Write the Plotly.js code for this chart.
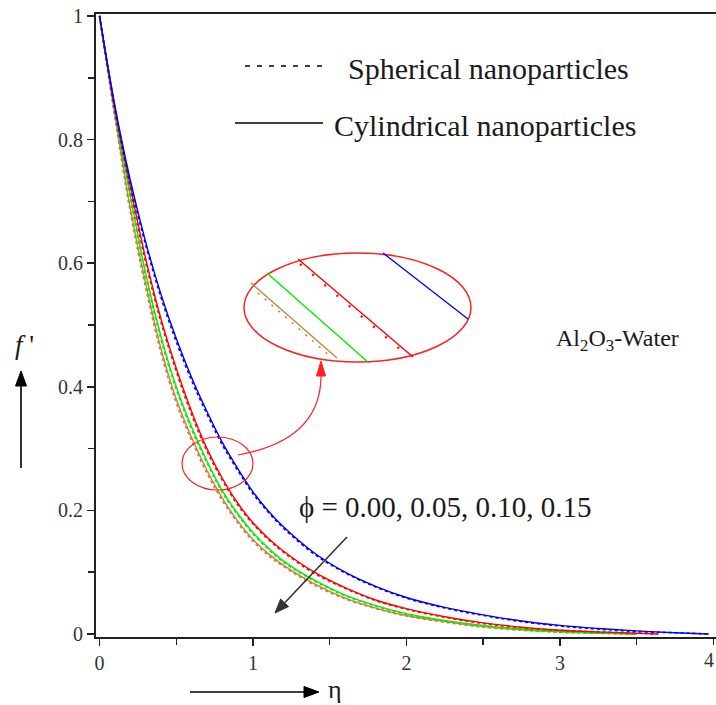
<!DOCTYPE html>
<html>
<head>
<meta charset="utf-8">
<script src="https://cdn.plot.ly/plotly-3.0.1.min.js"></script>
<style>html,body{margin:0;padding:0;background:#fff;}#chart{width:716px;height:705px;}</style>
</head>
<body>
<div id="chart"></div>
<script>
// ---- data ----
const seriesNames = ["ϕ = 0.00", "ϕ = 0.05", "ϕ = 0.10", "ϕ = 0.15"];
const etaBlue = [0,0.1,0.2,0.3,0.4,0.5,0.6,0.7,0.8,0.9,1.0,1.1,1.2,1.4,1.6,1.8,2.0,2.25,2.5,2.75,3.0,3.25,3.5,3.75,3.97];
const blueCyl = [1,0.855,0.735,0.635,0.55,0.478,0.415,0.36,0.31,0.268,0.23,0.199,0.173,0.131,0.1,0.077,0.059,0.043,0.031,0.021,0.014,0.009,0.005,0.002,0.0];
const blueSph = [1,0.852,0.73,0.63,0.545,0.473,0.41,0.356,0.306,0.265,0.227,0.197,0.171,0.129,0.099,0.076,0.058,0.042,0.03,0.02,0.013,0.008,0.004,0.002,0.0];
const etaRed = [0,0.1,0.2,0.3,0.4,0.5,0.6,0.7,0.8,0.9,1.0,1.1,1.2,1.4,1.6,1.8,2.0,2.25,2.5,2.75,3.0,3.3,3.64];
const redCyl = [1,0.85,0.725,0.608,0.51,0.43,0.36,0.3,0.252,0.212,0.18,0.155,0.134,0.1,0.075,0.055,0.041,0.028,0.018,0.011,0.006,0.003,0.0];
const redSph = [1,0.846,0.72,0.602,0.505,0.425,0.355,0.296,0.249,0.209,0.178,0.153,0.132,0.098,0.074,0.054,0.04,0.027,0.017,0.01,0.006,0.003,0.0];
const etaGreen = [0,0.1,0.2,0.3,0.4,0.5,0.6,0.7,0.8,0.9,1.0,1.1,1.2,1.4,1.6,1.8,2.0,2.25,2.5,2.75,3.0,3.5];
const greenCyl = [1,0.845,0.71,0.585,0.482,0.4,0.335,0.28,0.232,0.195,0.164,0.139,0.118,0.087,0.063,0.046,0.033,0.022,0.014,0.008,0.004,0.0];
const greenSph = [1,0.842,0.705,0.58,0.477,0.396,0.331,0.277,0.229,0.193,0.162,0.137,0.116,0.086,0.062,0.045,0.032,0.021,0.013,0.007,0.003,0.0];
const etaBrown = [0,0.1,0.2,0.3,0.4,0.5,0.6,0.7,0.8,0.9,1.0,1.1,1.2,1.4,1.6,1.8,2.0,2.25,2.5,2.75,3.0,3.5];
const brownCyl = [1,0.84,0.69,0.568,0.462,0.38,0.318,0.265,0.22,0.183,0.153,0.13,0.111,0.081,0.058,0.042,0.03,0.02,0.012,0.007,0.004,0.0];
const brownSph = [1,0.835,0.683,0.56,0.455,0.374,0.313,0.26,0.216,0.18,0.15,0.127,0.109,0.079,0.057,0.041,0.029,0.019,0.011,0.006,0.003,0.0];
const xTickVals = [0,1,2,3];
const xTickText = ["0","1","2","3"];
const xLastTick = "4";
const yTickVals = [0,0.2,0.4,0.6,0.8,1];
const yTickText = ["0","0.2","0.4","0.6","0.8","1"];

const colors = ["#0000ff","#ff0000","#00ee00","#c8803c"];
const etas = [etaBlue, etaRed, etaGreen, etaBrown];
const cyl = [blueCyl, redCyl, greenCyl, brownCyl];
const sph = [blueSph, redSph, greenSph, brownSph];

const traces = [];
for (let i = 3; i >= 0; i--) {
  traces.push({x: etas[i], y: sph[i], type: "scatter", mode: "lines", name: seriesNames[i] + " spherical",
    line: {color: colors[i], width: 1.6, dash: "dot", shape: "spline"}, showlegend: false, hoverinfo: "skip"});
  traces.push({x: etas[i], y: cyl[i], type: "scatter", mode: "lines", name: seriesNames[i] + " cylindrical",
    line: {color: colors[i], width: 1.4, shape: "spline"}, showlegend: false, hoverinfo: "skip"});
}

// pixel -> paper helpers (plot area: x 96..716, y 14..637)
const L = 96, W = 620, B = 637, H = 623;
const px = v => (v - L) / W;
const py = v => (B - v) / H;
const P = (x, y) => px(x) + "," + py(y);

const serif = "Liberation Serif";

function pline(x0, y0, x1, y1, color, width, dash) {
  return {type: "line", xref: "paper", yref: "paper", x0: px(x0), y0: py(y0), x1: px(x1), y1: py(y1),
    line: {color: color, width: width, dash: dash || "solid"}};
}
function tri(a, b, c, color) {
  return {type: "path", xref: "paper", yref: "paper",
    path: "M " + P(a[0], a[1]) + " L " + P(b[0], b[1]) + " L " + P(c[0], c[1]) + " Z",
    fillcolor: color, line: {color: color, width: 1}};
}

const shapes = [
  // legend samples
  pline(245, 66, 328, 66, "#000", 1.5, "5px,7px"),
  pline(235, 123, 323, 123, "#000", 1.3),
  // big zoom ellipse
  {type: "circle", xref: "paper", yref: "paper", x0: px(244), x1: px(471), y0: py(362), y1: py(253), line: {color: "#ff2020", width: 1.5}},
  // small ellipse
  {type: "circle", xref: "paper", yref: "paper", x0: px(182), x1: px(253), y0: py(490), y1: py(437), line: {color: "#ff2020", width: 1.2}},
  // magnified curve segments inside ellipse
  pline(383, 253, 468, 319, "#0000ff", 1.3),
  pline(298, 259, 413, 357, "#ff0000", 1.4),
  pline(300, 264, 408, 356, "#ff0000", 2.2, "2px,14px"),
  pline(267, 273, 369, 363, "#00ee00", 1.4),
  pline(251, 283, 337, 358, "#c8803c", 1.3),
  pline(258, 293, 330, 356, "#c8803c", 1.6, "2px,7px"),
  // connector from small ellipse to big ellipse
  {type: "path", xref: "paper", yref: "paper",
   path: "M " + P(238, 455) + " Q " + P(322, 440) + " " + P(321, 374),
   line: {color: "#ff2020", width: 1.2}},
  tri([321, 361], [316.5, 376], [325.5, 376], "#ff2020"),
  // f' up arrow
  pline(21, 468, 21, 382, "#000", 1.6),
  tri([21, 371], [15.5, 386], [26.5, 386], "#000"),
  // eta right arrow
  pline(190, 692, 306, 692, "#000", 1.6),
  tri([319, 692], [304, 686.5], [304, 697.5], "#000"),
  // phi diagonal arrow
  pline(347, 537, 285, 602.5, "#333", 1.6),
  tri([275, 613], [288.6, 606.6], [280.6, 599.0], "#333")
];

const annotations = [
  {xref: "paper", yref: "paper", x: px(346), y: py(68), xanchor: "left", yanchor: "middle", showarrow: false,
   text: "Spherical nanoparticles", font: {family: serif, size: 30, color: "#1a1a1a"}},
  {xref: "paper", yref: "paper", x: px(332), y: py(125), xanchor: "left", yanchor: "middle", showarrow: false,
   text: "Cylindrical nanoparticles", font: {family: serif, size: 30, color: "#1a1a1a"}},
  {xref: "paper", yref: "paper", x: px(554), y: py(340), xanchor: "left", yanchor: "middle", showarrow: false,
   text: "Al<sub>2</sub>O<sub>3</sub>-Water", font: {family: serif, size: 24, color: "#1a1a1a"}},
  {xref: "paper", yref: "paper", x: px(297), y: py(507), xanchor: "left", yanchor: "middle", showarrow: false,
   text: "ϕ = 0.00, 0.05, 0.10, 0.15", font: {family: serif, size: 29, color: "#1a1a1a"}},
  {xref: "paper", yref: "paper", x: px(24), y: py(345), xanchor: "center", yanchor: "middle", showarrow: false,
   text: "<i>f</i> '", font: {family: serif, size: 27, color: "#1a1a1a"}},
  {xref: "paper", yref: "paper", x: px(326), y: py(689), xanchor: "left", yanchor: "middle", showarrow: false,
   text: "η", font: {family: serif, size: 26, color: "#1a1a1a"}},
  {xref: "paper", yref: "paper", x: px(716), y: py(660), xanchor: "right", yanchor: "middle", showarrow: false,
   text: xLastTick, font: {family: serif, size: 20, color: "#333"}}
];

const layout = {
  width: 716, height: 705,
  margin: {l: 96, r: 0, t: 14, b: 68, pad: 0},
  paper_bgcolor: "#fff", plot_bgcolor: "#fff",
  showlegend: false,
  font: {family: serif},
  xaxis: {range: [-0.023, 4.017], tickvals: xTickVals, ticktext: xTickText,
    ticks: "outside", ticklen: 7, tickwidth: 1.5, tickcolor: "#222",
    minor: {tickvals: [0.5,1.5,2.5,3.5,4], ticks: "outside", ticklen: 6, tickwidth: 1.5, tickcolor: "#222"},
    showline: true, linecolor: "#222", linewidth: 2, mirror: true,
    showgrid: false, zeroline: false, tickfont: {family: serif, size: 20, color: "#333"}},
  yaxis: {range: [-0.00485, 1.0032], tickvals: yTickVals, ticktext: yTickText,
    ticks: "outside", ticklen: 7, tickwidth: 1.5, tickcolor: "#222",
    minor: {dtick: 0.1, tick0: 0, ticks: "outside", ticklen: 6, tickwidth: 1.5, tickcolor: "#222"},
    showline: true, linecolor: "#222", linewidth: 2,
    showgrid: false, zeroline: false, tickfont: {family: serif, size: 20, color: "#333"}},
  shapes: shapes,
  annotations: annotations
};

Plotly.newPlot("chart", traces, layout, {displayModeBar: false, staticPlot: true});
</script>
</body>
</html>
